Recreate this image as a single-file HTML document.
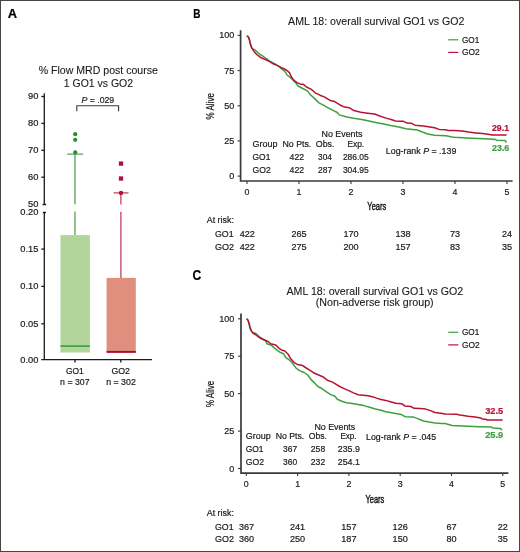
<!DOCTYPE html>
<html><head><meta charset="utf-8"><title>Figure</title>
<style>
html,body{margin:0;padding:0;background:#fff;}
body{width:520px;height:552px;overflow:hidden;}
text{stroke:currentColor;stroke-width:0.2px;}
svg{display:block;will-change:transform;font-family:"Liberation Sans",sans-serif;}

</style></head>
<body>
<svg width="520" height="552" viewBox="0 0 520 552">
<rect x="0.5" y="0.5" width="519" height="551" fill="#fff" stroke="#444" stroke-width="1"/>
<g fill="#1a1a1a" color="#1a1a1a">
<text transform="translate(7.70 18.00) scale(0.9936 1)" font-size="13" fill="#000" color="#000" font-weight="bold">A</text>
<text style="stroke-width:0.1px" transform="translate(38.70 74.20) scale(0.9884 1)" font-size="10.7">% Flow MRD post course</text>
<text style="stroke-width:0.1px" transform="translate(63.80 86.80) scale(0.9791 1)" font-size="10.7">1 GO1 vs GO2</text>
<g stroke="#1a1a1a" stroke-width="1.3" fill="none">
<path d="M44.3,93.3V204.5M42.6,204.5H46.2M44.3,212.5V359.7H152M41.3,359.7H44.3M42.8,212.5H46"/>
<path d="M41.3,96.5H44.3"/>
<path d="M41.3,123.4H44.3"/>
<path d="M41.3,150.3H44.3"/>
<path d="M41.3,177.2H44.3"/>
<path d="M41.3,249.1H44.3"/>
<path d="M41.3,286.4H44.3"/>
<path d="M41.3,323.8H44.3"/>
<path d="M75,359.6V362.6M120.8,359.6V362.6"/>
</g>
<text transform="translate(38.40 99.40) scale(0.99 1)" font-size="9.4" text-anchor="end">90</text>
<text transform="translate(38.40 126.30) scale(0.99 1)" font-size="9.4" text-anchor="end">80</text>
<text transform="translate(38.40 153.20) scale(0.99 1)" font-size="9.4" text-anchor="end">70</text>
<text transform="translate(38.40 180.10) scale(0.99 1)" font-size="9.4" text-anchor="end">60</text>
<text transform="translate(38.40 206.80) scale(0.99 1)" font-size="9.4" text-anchor="end">50</text>
<text transform="translate(38.40 215.20) scale(0.99 1)" font-size="9.4" text-anchor="end">0.20</text>
<text transform="translate(38.40 251.90) scale(0.99 1)" font-size="9.4" text-anchor="end">0.15</text>
<text transform="translate(38.40 289.20) scale(0.99 1)" font-size="9.4" text-anchor="end">0.10</text>
<text transform="translate(38.40 326.60) scale(0.99 1)" font-size="9.4" text-anchor="end">0.05</text>
<text transform="translate(38.40 362.50) scale(0.99 1)" font-size="9.4" text-anchor="end">0.00</text>
<path d="M76.8,111.2V105.8H118.6V111.2" stroke="#3a3a3a" stroke-width="1.1" fill="none"/>
<text transform="translate(81.40 103.20) scale(0.9516 1)" font-size="9.2"><tspan font-style="italic">P</tspan> = .029</text>
<rect x="60.5" y="235.1" width="29.4" height="117.4" fill="#b1d59b"/>
<rect x="60.5" y="345.2" width="29.4" height="1.8" fill="#45a545"/>
<path d="M75,235.1V211.5M75,204.3V154.1M67.3,154.1H83.1" stroke="#58a458" stroke-width="1.3" fill="none"/>
<circle cx="75.2" cy="134.2" r="2.1" fill="#2f8a36"/>
<circle cx="75.2" cy="139.8" r="2.1" fill="#2f8a36"/>
<circle cx="75.2" cy="152.3" r="2.1" fill="#2f8a36"/>
<rect x="106.6" y="277.9" width="29.2" height="74.9" fill="#e08f7f"/>
<rect x="106.6" y="350.9" width="29.2" height="1.9" fill="#a8102a"/>
<path d="M120.9,277.9V211.8M120.9,204.5V192.9M113.6,192.9H128.5" stroke="#c2405c" stroke-width="1.3" fill="none"/>
<rect x="118.85" y="161.45" width="4.3" height="4.3" fill="#b0103a"/>
<rect x="118.85" y="176.35" width="4.3" height="4.3" fill="#b0103a"/>
<circle cx="121" cy="192.9" r="2.2" fill="#b0103a"/>
<text transform="translate(65.90 373.90) scale(0.9270 1)" font-size="9.1">GO1</text>
<text transform="translate(60.10 384.70) scale(0.9427 1)" font-size="9.3">n = 307</text>
<text transform="translate(111.50 373.90) scale(0.9635 1)" font-size="9.1">GO2</text>
<text transform="translate(106.20 384.70) scale(0.9459 1)" font-size="9.3">n = 302</text>
<text transform="translate(193.20 17.80) scale(0.7692 1)" font-size="13" fill="#000" color="#000" font-weight="bold">B</text>
<text style="stroke-width:0.1px" transform="translate(288.10 25.00) scale(0.9916 1)" font-size="10.7">AML 18: overall survival GO1 vs GO2</text>
<g stroke="#3a3a3a" stroke-width="1.7" fill="none">
<path d="M240.6,30.2V181.0H512.6"/>
</g>
<g stroke="#3a3a3a" stroke-width="1.1" fill="none">
<path d="M237.6,35.4H240.6"/>
<path d="M237.6,70.6H240.6"/>
<path d="M237.6,105.8H240.6"/>
<path d="M237.6,140.9H240.6"/>
<path d="M237.6,176.1H240.6"/>
<path d="M247.0,181.0V184.0"/>
<path d="M299.0,181.0V184.0"/>
<path d="M351.0,181.0V184.0"/>
<path d="M403.0,181.0V184.0"/>
<path d="M455.0,181.0V184.0"/>
<path d="M507.0,181.0V184.0"/>
</g>
<text transform="translate(234.30 38.40) scale(0.98 1)" font-size="9.2" text-anchor="end">100</text>
<text transform="translate(234.30 73.60) scale(0.98 1)" font-size="9.2" text-anchor="end">75</text>
<text transform="translate(234.30 108.80) scale(0.98 1)" font-size="9.2" text-anchor="end">50</text>
<text transform="translate(234.30 143.90) scale(0.98 1)" font-size="9.2" text-anchor="end">25</text>
<text transform="translate(234.30 179.10) scale(0.98 1)" font-size="9.2" text-anchor="end">0</text>
<text transform="translate(247.00 195.20) scale(0.96 1)" font-size="9.2" text-anchor="middle">0</text>
<text transform="translate(299.00 195.20) scale(0.96 1)" font-size="9.2" text-anchor="middle">1</text>
<text transform="translate(351.00 195.20) scale(0.96 1)" font-size="9.2" text-anchor="middle">2</text>
<text transform="translate(403.00 195.20) scale(0.96 1)" font-size="9.2" text-anchor="middle">3</text>
<text transform="translate(455.00 195.20) scale(0.96 1)" font-size="9.2" text-anchor="middle">4</text>
<text transform="translate(507.00 195.20) scale(0.96 1)" font-size="9.2" text-anchor="middle">5</text>
<text stroke-width="0.45" style="stroke-width:0.45px" transform="translate(367.30 210.30) scale(0.7113 1)" font-size="10.6">Years</text>
<text transform="translate(214,106.3) rotate(-90)" font-size="11" style="stroke-width:0.25px" text-anchor="middle" textLength="26.3" lengthAdjust="spacingAndGlyphs">% Alive</text>
<path d="M448.2,39.8H458.3" stroke="#3ca03c" stroke-width="1.2"/>
<path d="M448.2,52.4H458.3" stroke="#b81236" stroke-width="1.2"/>
<text transform="translate(461.90 42.50) scale(0.9646 1)" font-size="8.5">GO1</text>
<text transform="translate(461.90 55.10) scale(0.9869 1)" font-size="8.5">GO2</text>
<polyline points="246.8,35.8 248.4,36.9 249.5,40.0 250.3,43.8 251.5,47.3 252.4,48.6 255.3,50.2 259.3,53.8 262.8,56.2 266.2,58.5 269.7,61.1 274.0,63.3 278.2,65.8 281.0,68.4 283.5,70.3 285.7,72.5 287.0,75.0 289.6,76.8 293.1,80.3 296.0,83.1 298.0,86.0 302.7,88.5 307.5,90.9 310.4,94.7 314.2,98.1 319.0,102.9 322.9,104.8 327.7,107.7 333.5,110.6 337.3,112.5 339.2,114.9 346.9,117.0 353.8,118.3 363.1,119.8 370.0,121.3 376.9,122.7 383.8,124.1 390.7,125.6 400.0,127.3 405.8,128.8 417.3,130.0 423.1,132.3 427.7,134.0 434.6,135.2 446.1,135.8 451.9,136.9 455.0,137.3 466.5,137.9 478.1,138.5 489.6,139.0 495.4,139.4 496.5,140.2 504.6,140.4 505.8,141.3 506.3,142.5" fill="none" stroke="#3ca03c" stroke-width="1.5" stroke-linejoin="round"/>
<polyline points="246.8,35.8 248.4,36.9 249.5,40.0 250.3,43.8 251.5,47.3 253.0,50.0 255.0,52.6 257.6,55.2 261.1,57.8 265.4,59.5 269.7,61.7 273.2,63.8 277.5,65.6 281.0,67.3 284.4,69.0 287.9,71.2 289.6,72.9 291.3,76.8 293.9,80.3 297.4,82.9 300.0,83.9 303.7,84.6 306.5,87.0 311.3,89.4 315.2,92.8 320.0,95.2 324.8,97.1 329.6,100.2 334.4,101.4 338.3,103.8 340.0,105.0 344.6,107.1 349.2,107.7 353.8,110.6 360.8,112.3 367.7,113.2 374.6,114.0 380.4,116.3 386.1,118.1 391.9,119.8 395.4,121.0 400.0,121.3 403.5,121.3 406.9,123.1 411.5,123.3 415.0,125.2 423.1,126.0 430.0,126.9 434.6,127.7 439.2,129.4 446.1,129.8 448.4,130.6 455.0,130.6 461.9,131.0 468.8,132.1 475.8,132.9 482.7,133.6 489.6,134.4 491.9,135.0 506.6,135.0" fill="none" stroke="#b81236" stroke-width="1.5" stroke-linejoin="round"/>
<text transform="translate(492.00 130.60) scale(1.0163 1)" font-size="8.6" fill="#b81236" color="#b81236" font-weight="bold">29.1</text>
<text transform="translate(492.00 151.20) scale(1.0343 1)" font-size="8.6" fill="#3ca03c" color="#3ca03c" font-weight="bold">23.6</text>
<text transform="translate(321.50 137.00) scale(0.9763 1)" font-size="9.1">No Events</text>
<text transform="translate(252.60 146.80) scale(0.9882 1)" font-size="9.1">Group</text>
<text transform="translate(282.50 146.80) scale(0.9649 1)" font-size="9.1">No Pts.</text>
<text transform="translate(315.80 146.80) scale(0.9739 1)" font-size="9.1">Obs.</text>
<text transform="translate(347.50 146.80) scale(0.9176 1)" font-size="9.1">Exp.</text>
<text transform="translate(252.60 159.60) scale(0.9218 1)" font-size="9.1">GO1</text>
<text transform="translate(289.60 159.60) scale(0.9401 1)" font-size="9.3">422</text>
<text transform="translate(318.10 159.60) scale(0.8885 1)" font-size="9.3">304</text>
<text transform="translate(342.90 159.60) scale(0.9101 1)" font-size="9.3">286.05</text>
<text transform="translate(252.60 172.70) scale(0.9479 1)" font-size="9.1">GO2</text>
<text transform="translate(289.60 172.70) scale(0.9401 1)" font-size="9.3">422</text>
<text transform="translate(318.10 172.70) scale(0.9014 1)" font-size="9.3">287</text>
<text transform="translate(342.90 172.70) scale(0.9101 1)" font-size="9.3">304.95</text>
<text transform="translate(385.80 154.20) scale(0.9719 1)" font-size="9.1">Log-rank <tspan font-style="italic">P</tspan> = .139</text>
<text transform="translate(206.70 223.30) scale(0.9820 1)" font-size="9.1">At risk:</text>
<text transform="translate(215.00 236.80) scale(0.9687 1)" font-size="9.1">GO1</text>
<text transform="translate(247.30 236.80) scale(0.98 1)" font-size="9.3" text-anchor="middle">422</text>
<text transform="translate(299.00 236.80) scale(0.98 1)" font-size="9.3" text-anchor="middle">265</text>
<text transform="translate(351.00 236.80) scale(0.98 1)" font-size="9.3" text-anchor="middle">170</text>
<text transform="translate(403.00 236.80) scale(0.98 1)" font-size="9.3" text-anchor="middle">138</text>
<text transform="translate(455.00 236.80) scale(0.98 1)" font-size="9.3" text-anchor="middle">73</text>
<text transform="translate(507.00 236.80) scale(0.98 1)" font-size="9.3" text-anchor="middle">24</text>
<text transform="translate(215.00 249.80) scale(0.9895 1)" font-size="9.1">GO2</text>
<text transform="translate(247.30 249.80) scale(0.98 1)" font-size="9.3" text-anchor="middle">422</text>
<text transform="translate(299.00 249.80) scale(0.98 1)" font-size="9.3" text-anchor="middle">275</text>
<text transform="translate(351.00 249.80) scale(0.98 1)" font-size="9.3" text-anchor="middle">200</text>
<text transform="translate(403.00 249.80) scale(0.98 1)" font-size="9.3" text-anchor="middle">157</text>
<text transform="translate(455.00 249.80) scale(0.98 1)" font-size="9.3" text-anchor="middle">83</text>
<text transform="translate(507.00 249.80) scale(0.98 1)" font-size="9.3" text-anchor="middle">35</text>
<text transform="translate(192.60 279.60) scale(0.8756 1)" font-size="13.8" fill="#000" color="#000" font-weight="bold">C</text>
<text style="stroke-width:0.1px" transform="translate(286.50 295.10) scale(0.9944 1)" font-size="10.7">AML 18: overall survival GO1 vs GO2</text>
<text style="stroke-width:0.1px" transform="translate(315.70 306.30) scale(0.9980 1)" font-size="10.7">(Non-adverse risk group)</text>
<g stroke="#3a3a3a" stroke-width="1.7" fill="none">
<path d="M241.0,313.6V473.1H508.40000000000003"/>
</g>
<g stroke="#3a3a3a" stroke-width="1.1" fill="none">
<path d="M238.0,318.8H241.0"/>
<path d="M238.0,356.2H241.0"/>
<path d="M238.0,393.6H241.0"/>
<path d="M238.0,431.1H241.0"/>
<path d="M238.0,468.5H241.0"/>
<path d="M246.3,473.1V476.1"/>
<path d="M297.6,473.1V476.1"/>
<path d="M348.9,473.1V476.1"/>
<path d="M400.2,473.1V476.1"/>
<path d="M451.5,473.1V476.1"/>
<path d="M502.8,473.1V476.1"/>
</g>
<text transform="translate(234.30 321.80) scale(0.98 1)" font-size="9.2" text-anchor="end">100</text>
<text transform="translate(234.30 359.20) scale(0.98 1)" font-size="9.2" text-anchor="end">75</text>
<text transform="translate(234.30 396.60) scale(0.98 1)" font-size="9.2" text-anchor="end">50</text>
<text transform="translate(234.30 434.10) scale(0.98 1)" font-size="9.2" text-anchor="end">25</text>
<text transform="translate(234.30 471.50) scale(0.98 1)" font-size="9.2" text-anchor="end">0</text>
<text transform="translate(246.30 487.30) scale(0.96 1)" font-size="9.2" text-anchor="middle">0</text>
<text transform="translate(297.60 487.30) scale(0.96 1)" font-size="9.2" text-anchor="middle">1</text>
<text transform="translate(348.90 487.30) scale(0.96 1)" font-size="9.2" text-anchor="middle">2</text>
<text transform="translate(400.20 487.30) scale(0.96 1)" font-size="9.2" text-anchor="middle">3</text>
<text transform="translate(451.50 487.30) scale(0.96 1)" font-size="9.2" text-anchor="middle">4</text>
<text transform="translate(502.80 487.30) scale(0.96 1)" font-size="9.2" text-anchor="middle">5</text>
<text stroke-width="0.45" style="stroke-width:0.45px" transform="translate(365.40 503.00) scale(0.7113 1)" font-size="10.6">Years</text>
<text transform="translate(214,393.9) rotate(-90)" font-size="11" style="stroke-width:0.25px" text-anchor="middle" textLength="26.3" lengthAdjust="spacingAndGlyphs">% Alive</text>
<path d="M448.2,332.3H458.3" stroke="#3ca03c" stroke-width="1.2"/>
<path d="M448.2,344.90000000000003H458.3" stroke="#b81236" stroke-width="1.2"/>
<text transform="translate(461.90 335.00) scale(0.9646 1)" font-size="8.5">GO1</text>
<text transform="translate(461.90 347.60) scale(0.9869 1)" font-size="8.5">GO2</text>
<polyline points="246.7,318.8 248.0,320.3 249.2,323.8 249.9,327.6 251.5,331.1 253.0,333.0 254.5,333.0 256.8,334.2 259.2,336.5 263.0,339.2 266.1,341.5 266.8,343.8 268.4,344.2 271.5,345.3 273.8,347.6 276.8,349.9 279.9,352.2 283.5,353.7 285.8,357.7 289.2,359.8 292.7,363.5 296.1,368.1 299.6,370.6 304.2,372.5 307.7,375.0 311.1,379.6 314.6,383.1 318.1,386.8 321.5,388.3 326.1,391.7 330.7,394.6 335.0,396.3 337.3,399.2 341.9,401.3 346.5,402.7 352.3,403.6 358.1,404.4 363.8,405.6 369.6,407.3 375.4,409.0 381.1,410.2 385.7,411.7 390.4,412.4 395.8,413.5 401.5,414.6 405.0,416.7 413.1,416.9 417.7,418.6 423.4,421.0 429.2,422.1 435.0,422.9 441.9,423.6 445.0,423.6 449.6,424.8 451.9,425.5 468.1,426.3 479.6,426.7 491.1,426.9 492.9,428.1 500.4,428.6 502.1,429.8" fill="none" stroke="#3ca03c" stroke-width="1.5" stroke-linejoin="round"/>
<polyline points="246.7,318.8 248.0,320.3 249.2,323.8 249.9,327.6 251.5,331.1 253.0,333.0 255.3,334.5 258.4,336.8 261.5,338.8 265.3,340.3 268.4,341.8 270.7,343.8 273.8,344.5 276.1,345.3 279.2,348.4 282.2,350.3 284.6,350.8 288.1,354.2 290.4,358.3 293.8,362.3 297.3,364.4 301.9,365.2 305.4,367.5 310.0,370.4 313.4,372.7 318.1,374.8 322.7,376.7 327.3,380.2 331.9,381.9 335.0,383.7 339.6,386.5 344.2,388.6 348.8,390.6 353.5,392.9 358.1,394.8 362.7,395.2 368.4,395.8 373.1,396.9 376.5,398.1 381.1,399.5 385.7,400.4 390.4,401.8 395.8,403.3 401.5,403.7 405.0,406.0 410.8,406.5 414.2,408.3 420.0,408.6 425.8,409.1 430.4,410.6 435.0,412.5 440.7,413.2 445.4,414.1 456.5,414.2 460.0,415.1 468.1,416.3 475.0,417.1 480.8,417.9 481.9,418.8 486.5,419.4 487.1,420.0 502.7,420.0" fill="none" stroke="#b81236" stroke-width="1.5" stroke-linejoin="round"/>
<text transform="translate(485.20 413.50) scale(1.0701 1)" font-size="8.6" fill="#b81236" color="#b81236" font-weight="bold">32.5</text>
<text transform="translate(485.20 438.30) scale(1.0701 1)" font-size="8.6" fill="#3ca03c" color="#3ca03c" font-weight="bold">25.9</text>
<text transform="translate(314.50 429.50) scale(0.9691 1)" font-size="9.1">No Events</text>
<text transform="translate(245.70 439.10) scale(0.9882 1)" font-size="9.1">Group</text>
<text transform="translate(275.70 439.10) scale(0.9582 1)" font-size="9.1">No Pts.</text>
<text transform="translate(308.70 439.10) scale(0.9479 1)" font-size="9.1">Obs.</text>
<text transform="translate(340.40 439.10) scale(0.8846 1)" font-size="9.1">Exp.</text>
<text transform="translate(245.70 452.30) scale(0.9322 1)" font-size="9.1">GO1</text>
<text transform="translate(283.10 452.30) scale(0.9079 1)" font-size="9.3">367</text>
<text transform="translate(310.80 452.30) scale(0.9336 1)" font-size="9.3">258</text>
<text transform="translate(337.70 452.30) scale(0.9529 1)" font-size="9.3">235.9</text>
<text transform="translate(245.70 465.10) scale(0.9531 1)" font-size="9.1">GO2</text>
<text transform="translate(283.10 465.10) scale(0.9079 1)" font-size="9.3">360</text>
<text transform="translate(310.80 465.10) scale(0.9336 1)" font-size="9.3">232</text>
<text transform="translate(337.70 465.10) scale(0.9529 1)" font-size="9.3">254.1</text>
<text transform="translate(366.10 439.70) scale(0.9664 1)" font-size="9.1">Log-rank <tspan font-style="italic">P</tspan> = .045</text>
<text transform="translate(206.70 516.00) scale(0.9820 1)" font-size="9.1">At risk:</text>
<text transform="translate(215.00 529.50) scale(0.9687 1)" font-size="9.1">GO1</text>
<text transform="translate(246.60 529.50) scale(0.98 1)" font-size="9.3" text-anchor="middle">367</text>
<text transform="translate(297.60 529.50) scale(0.98 1)" font-size="9.3" text-anchor="middle">241</text>
<text transform="translate(348.90 529.50) scale(0.98 1)" font-size="9.3" text-anchor="middle">157</text>
<text transform="translate(400.20 529.50) scale(0.98 1)" font-size="9.3" text-anchor="middle">126</text>
<text transform="translate(451.50 529.50) scale(0.98 1)" font-size="9.3" text-anchor="middle">67</text>
<text transform="translate(502.80 529.50) scale(0.98 1)" font-size="9.3" text-anchor="middle">22</text>
<text transform="translate(215.00 542.10) scale(0.9895 1)" font-size="9.1">GO2</text>
<text transform="translate(246.60 542.10) scale(0.98 1)" font-size="9.3" text-anchor="middle">360</text>
<text transform="translate(297.60 542.10) scale(0.98 1)" font-size="9.3" text-anchor="middle">250</text>
<text transform="translate(348.90 542.10) scale(0.98 1)" font-size="9.3" text-anchor="middle">187</text>
<text transform="translate(400.20 542.10) scale(0.98 1)" font-size="9.3" text-anchor="middle">150</text>
<text transform="translate(451.50 542.10) scale(0.98 1)" font-size="9.3" text-anchor="middle">80</text>
<text transform="translate(502.80 542.10) scale(0.98 1)" font-size="9.3" text-anchor="middle">35</text>
</g>
</svg>
</body></html>
